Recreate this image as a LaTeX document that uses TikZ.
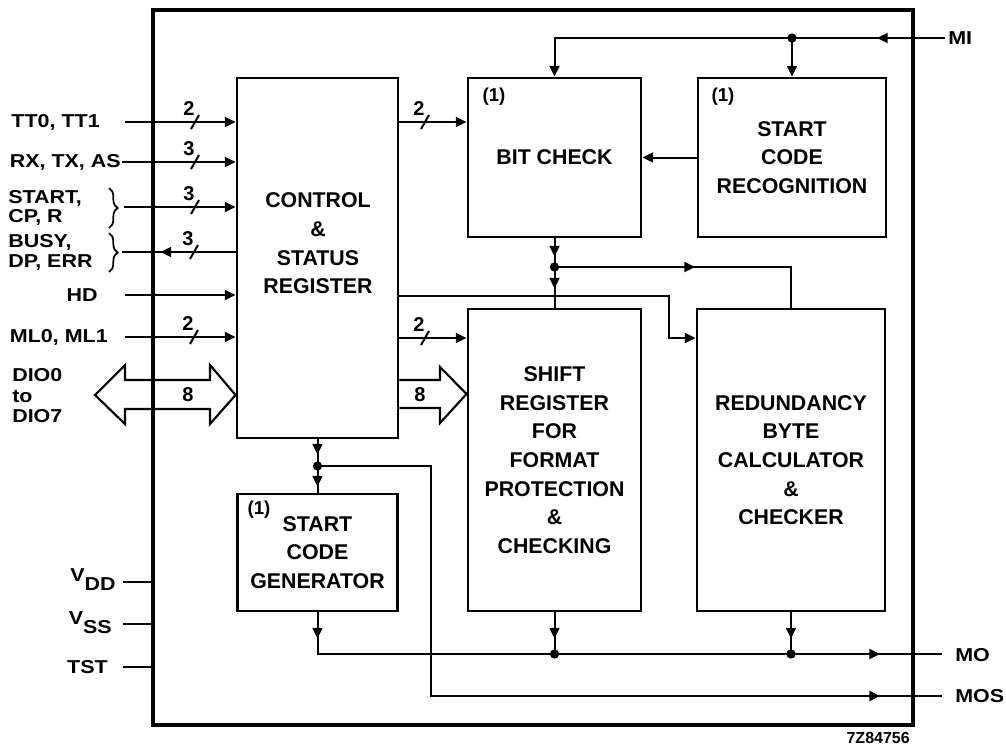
\documentclass[tikz,border=0pt]{standalone}
\usepackage{fontspec}
\setmainfont{Liberation Sans}
\newfontfamily\lblfont{Liberation Sans}[FakeStretch=1.15]
\usetikzlibrary{arrows.meta,decorations.markings,decorations.pathreplacing}
\newcommand\boxfnt{\bfseries\fontsize{16}{21.5}\selectfont}
\newcommand\lblfnt{\lblfont\bfseries\fontsize{14}{15}\selectfont}
\tikzset{
  box/.style={draw, line width=2.2pt, inner sep=0pt, align=center, font=\boxfnt},
  conn/.style={line width=1.5pt},
  arr/.style={-{Triangle[length=8pt,width=7.5pt]}},
  mk/.style={postaction={decorate,decoration={markings,
     mark=at position #1 with {\arrow{Triangle[length=8pt,width=7.5pt]}}}}},
  mkk/.style 2 args={postaction={decorate,decoration={markings,
     mark=at position #1 with {\arrow{Triangle[length=8pt,width=7.5pt]}},
     mark=at position #2 with {\arrow{Triangle[length=8pt,width=7.5pt]}}}}},
  dot/.style={circle, fill, inner sep=0pt, minimum size=7pt},
  lbl/.style={font=\lblfnt, inner sep=0pt},
  num/.style={font=\bfseries\fontsize{15}{16}\selectfont, inner sep=0pt},
  one/.style={font=\bfseries\fontsize{14}{15}\selectfont, inner sep=0pt},
  pics/busmark/.style={code={\draw[line width=1.5pt] (-4,7) -- (4,-7); \node[num] at (-6,-13) {#1};}},
  brc/.style={line width=1.3pt, decorate, decoration={brace, amplitude=6.5pt}},
  fat/.style={line width=1.6pt, line join=miter},
}
\begin{document}
\begin{tikzpicture}[x=0.75pt,y=-0.75pt]
\useasboundingbox (0,0) rectangle (1006,747);

% chip outline
\node[draw, line width=2.3pt, minimum width=570pt, minimum height=536.25pt, inner sep=0pt] (chip) at (533,367.5) {};

% blocks
\node[box, minimum width=120.75pt, minimum height=270pt] (ctl) at (317.5,258) {};
\node[font=\boxfnt, align=center, inner sep=0pt] (ctltxt) at (318,243.5) {CONTROL\\\&\\STATUS\\REGISTER};
\node[box, minimum width=129.75pt, minimum height=119.25pt] (bit) at (554.5,157.5) {BIT CHECK};
\node[box, minimum width=141pt, minimum height=119.25pt] (rec) at (792,157.5) {START\\CODE\\RECOGNITION};
\node[box, minimum width=129.75pt, minimum height=226.5pt] (shift) at (554.5,460) {SHIFT\\REGISTER\\FOR\\FORMAT\\PROTECTION\\\&\\CHECKING};
\node[box, minimum width=141pt, minimum height=226.5pt] (red) at (791,460) {REDUNDANCY\\BYTE\\CALCULATOR\\\&\\CHECKER};
\node[box, minimum width=120pt, minimum height=87.75pt] (gen) at (317.5,552.5) {START\\CODE\\GENERATOR};
\node[one] (n1a) at (494,97) {(1)};
\node[one] (n1b) at (723,97) {(1)};
\node[one] (n1c) at (259,510) {(1)};

% MI input
\coordinate (miin) at (945,38);
\coordinate (mij) at (rec.north |- miin);
\coordinate (mil) at (bit.north |- miin);
\draw[conn,arr,mk=51pt] (miin) -- (mil) -- (bit.north);
\draw[conn,arr] (mij) -- (rec.north);
\node[dot] (d1) at (mij) {};
\node[lbl, anchor=west] (milbl) at (948,38) {MI};

% recognition -> bit check
\draw[conn,arr] (rec.west) -- (bit.east);

% control -> bit check (2)
\coordinate (y122) at (0,122);
\draw[conn,arr] (ctl.east |- y122) -- (bit.west |- y122);
\pic at (425,122) {busmark=2};

% left inputs
\coordinate (tt) at (125,122);
\coordinate (rx) at (122,162);
\coordinate (st) at (124,207);
\coordinate (bz) at (122,252);
\coordinate (hd) at (125,295);
\coordinate (ml) at (125,337);
\draw[conn,arr] (tt) -- (ctl.west |- tt);
\draw[conn,arr] (rx) -- (ctl.west |- rx);
\draw[conn,arr] (st) -- (ctl.west |- st);
\draw[conn,mk=56.25pt] (ctl.west |- bz) -- (bz);
\draw[conn,arr] (hd) -- (ctl.west |- hd);
\draw[conn,arr] (ml) -- (ctl.west |- ml);
\pic at (195,122) {busmark=2};
\pic at (195,162) {busmark=3};
\pic at (195,207) {busmark=3};
\pic at (194,252) {busmark=3};
\pic at (194,337) {busmark=2};

\node[lbl, anchor=east] (ttl) at (100,122) {TT0, TT1};
\node[lbl, anchor=east] (rxl) at (121,162) {RX, TX, AS};
\node[lbl, anchor=west, align=left, font=\lblfont\bfseries\fontsize{14}{14.5}\selectfont] (stl) at (8,208) {START,\\CP, R};
\node[lbl, anchor=west, align=left, font=\lblfont\bfseries\fontsize{14}{15}\selectfont] (bzl) at (8,252) {BUSY,\\DP, ERR};
\draw[brc] (109,188) -- (109,228);
\draw[brc] (109,233) -- (109,272);
\node[lbl, anchor=east] (hdl) at (98,295) {HD};
\node[lbl, anchor=east] (mll) at (108,337) {ML0, ML1};
\node[lbl, anchor=west, align=left, font=\lblfont\bfseries\fontsize{14}{15.4}\selectfont] (diol) at (12,396) {DIO0\\to\\DIO7};

% data bus left (double arrow)
\draw[fat] (95,395) -- (125,365) -- (125,380) -- (210,380) -- (210,365) -- (ctl.west |- 0,395)
  -- (210,424) -- (210,409) -- (125,409) -- (125,424) -- cycle;
\node[num] (b8a) at (188,395) {8};

% control -> shift (2) and data bus (8)
\coordinate (y338) at (0,338);
\draw[conn,arr] (ctl.east |- y338) -- (shift.west |- y338);
\pic at (425,338) {busmark=2};
\draw[fat] (ctl.east |- 0,380) -- (440,380) -- (440,367) -- (shift.west |- 0,394) -- (440,423) -- (440,408) -- (ctl.east |- 0,408);
\node[num] (b8b) at (420,395) {8};

% control -> redundancy
\coordinate (c1) at (669,296);
\coordinate (c2) at (669,338);
\draw[conn,arr] (ctl.east |- c1) -- (c1) -- (c2) -- (red.west |- c2);

% bit check -> shift
\draw[conn,mkk={13.5pt}{37.5pt}] (bit.south) -- (shift.north);
\coordinate (y267) at (0,267);
\node[dot] (d2) at (bit.south |- y267) {};
\draw[conn,mk=105.4pt] (d2.center) -- (red.north |- d2) -- (red.north);

% control -> generator
\draw[conn,mkk={11.25pt}{35.25pt}] (ctl.south) -- (gen.north);
\coordinate (y466) at (0,466);
\node[dot] (d3) at (ctl.south |- y466) {};

% MOS
\coordinate (mos) at (942,696);
\coordinate (m1) at (431,466);
\coordinate (m2) at (431,696);
\draw[conn,mk=-46.5pt] (d3.center) -- (m1) -- (m2) -- (mos);
\node[lbl, anchor=west] (mosl) at (955,696) {MOS};

% MO
\coordinate (mo) at (942,654);
\draw[conn,mkk={19.5pt}{-46.5pt}] (gen.south) -- (gen.south |- mo) -- (mo);
\draw[conn,mk=19.5pt] (shift.south) -- (shift.south |- mo);
\draw[conn,mk=19.5pt] (red.south) -- (red.south |- mo);
\node[dot] (d4) at (shift.south |- mo) {};
\node[dot] (d5) at (red.south |- mo) {};
\node[lbl, anchor=west] (mol) at (955,655) {MO};

% supply pins
\coordinate (vdd) at (123,582);
\coordinate (vss) at (123,624);
\coordinate (tst) at (123,667);
\draw[conn] (vdd) -- (chip.west |- vdd);
\draw[conn] (vss) -- (chip.west |- vss);
\draw[conn] (tst) -- (chip.west |- tst);
\node[lbl, anchor=east] (vddl) at (116,580) {V\raisebox{-6.75pt}{DD}};
\node[lbl, anchor=east] (vssl) at (112,623) {V\raisebox{-6.75pt}{SS}};
\node[lbl, anchor=east] (tstl) at (108,667) {TST};

\node[font=\bfseries\fontsize{12}{13}\selectfont, inner sep=0pt, anchor=east] (code) at (910,737.5) {7Z84756};
\end{tikzpicture}
\end{document}
